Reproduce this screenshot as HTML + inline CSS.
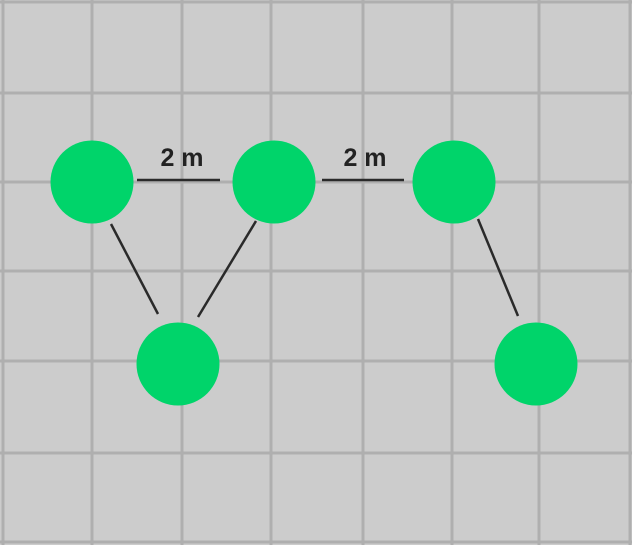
<!DOCTYPE html>
<html><head><style>
body{margin:0;background:#cccccc}
svg{display:block}
</style></head><body>
<svg width="632" height="545" viewBox="0 0 632 545">
<rect width="632" height="545" fill="#cccccc"/>
<g id="grid" stroke="#afafaf" stroke-width="3"></g>
<g stroke="#2a2a2a" stroke-width="2.5">
<line x1="137" y1="180" x2="220" y2="180"/>
<line x1="322" y1="180" x2="404" y2="180"/>
<line x1="111" y1="224" x2="158" y2="314"/>
<line x1="256" y1="221" x2="198" y2="317"/>
<line x1="478" y1="219" x2="518" y2="316"/>
</g>
<g fill="#00d46a">
<circle cx="92" cy="182" r="41.5"/>
<circle cx="274" cy="182" r="41.5"/>
<circle cx="454" cy="182" r="41.5"/>
<circle cx="178" cy="364" r="41.5"/>
<circle cx="536" cy="364" r="41.5"/>
</g>
<g font-family="Liberation Sans, sans-serif" font-weight="bold" font-size="25" fill="#222" text-anchor="middle">
<text x="182" y="166">2 m</text>
<text x="365" y="166">2 m</text>
</g>
</svg>
<script>
const gridX=[3,92,182,271,363,452,539,630];
const gridY=[2,93,182,271,361,453,542];
const g=document.getElementById('grid');
const NS='http://www.w3.org/2000/svg';
gridX.forEach(x=>{const l=document.createElementNS(NS,'line');
l.setAttribute('x1',x);l.setAttribute('x2',x);l.setAttribute('y1',0);l.setAttribute('y2',545);


g.appendChild(l);});
gridY.forEach(y=>{const l=document.createElementNS(NS,'line');
l.setAttribute('y1',y);l.setAttribute('y2',y);l.setAttribute('x1',0);l.setAttribute('x2',632);


g.appendChild(l);});
</script>
</body></html>
